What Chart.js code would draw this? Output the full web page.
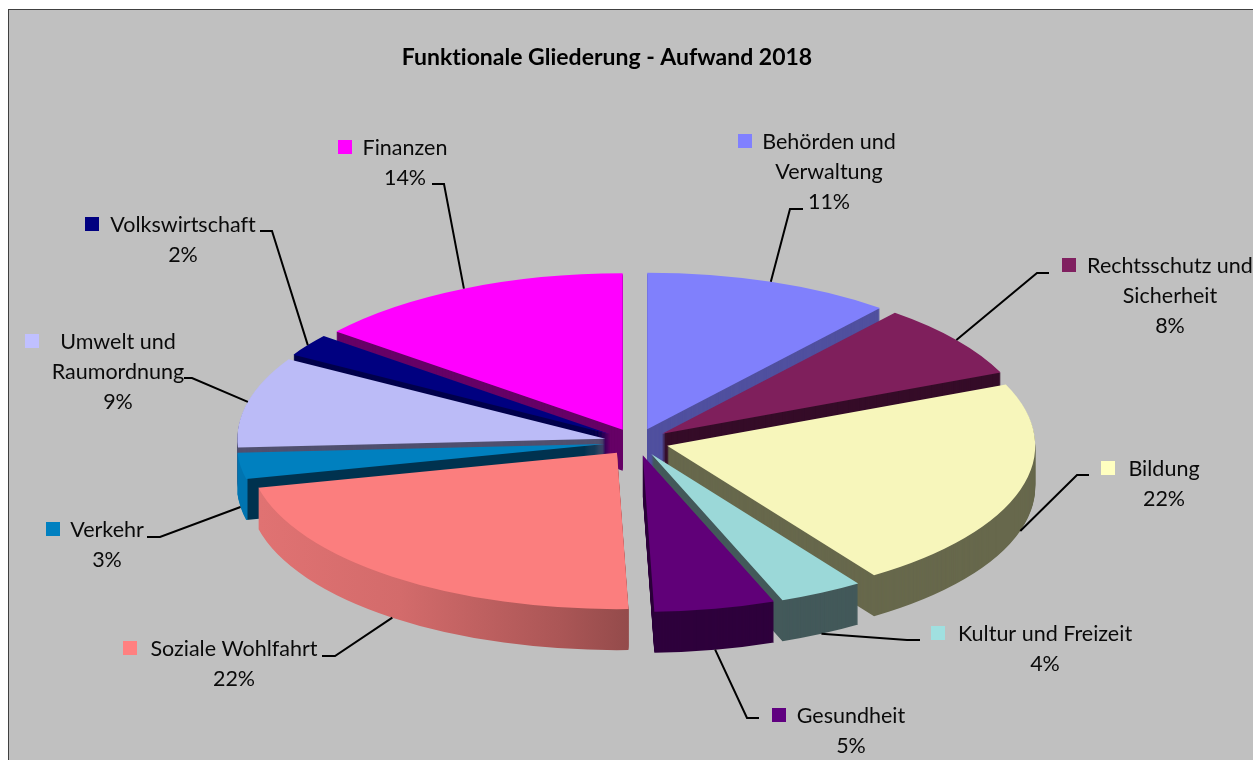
<!DOCTYPE html>
<html>
<head>
<meta charset="utf-8">
<title>Funktionale Gliederung</title>
<script src="https://cdn.jsdelivr.net/npm/chart.js@4"></script>
<style>
    html, body { margin: 0; padding: 0; background: #ffffff; overflow: hidden; }
    canvas { display: block; }
</style>
</head>
<body>
<canvas id="pieChart" width="1253" height="760"></canvas>
<script>
const chartTitle = 'Funktionale Gliederung - Aufwand 2018';
const categories = ['Behörden und Verwaltung', 'Rechtsschutz und Sicherheit', 'Bildung', 'Kultur und Freizeit', 'Gesundheit',
    'Soziale Wohlfahrt', 'Verkehr', 'Umwelt und Raumordnung', 'Volkswirtschaft', 'Finanzen'];
const values = [10.9, 7.7, 21.9, 3.7, 5.3, 21.9, 2.7, 9.4, 2.3, 14.2];

// colores: tapa del sector, cuadro de leyenda, pared lateral
const topColors = ['#8080fc', '#7f1f5c', '#f7f6bb', '#9bd8d8', '#600078', '#fb7e7e', '#0080bf', '#bbbbf7', '#000080', '#ff00ff'];
const keyColors = ['#8080ff', '#802060', '#ffffc0', '#a0e0e0', '#600080', '#ff8080', '#0080c0', '#c0c0ff', '#000080', '#ff00ff'];
const wallColors = ['#50509f', '#350c28', '#67684c', '#43595a', '#2e003c', null, null, '#50506f', '#00004b', '#660066'];
const wallStops = {
    5: [[260, '#e07272'], [400, '#d36b6b'], [560, '#ab5656'], [628, '#944b4b']],
    6: [[238, '#0074b0'], [247, '#0074b0'], [248, '#00324f'], [620, '#00324f']]
};

// posicion de textos y lineas guia
const labelLines = [['Behörden und', 'Verwaltung'], ['Rechtsschutz und', 'Sicherheit'], ['Bildung'], ['Kultur und Freizeit'], ['Gesundheit'],
    ['Soziale Wohlfahrt'], ['Verkehr'], ['Umwelt und', 'Raumordnung'], ['Volkswirtschaft'], ['Finanzen']];
const labelX = [829, 1170, 1164, 1045, 851, 234, 107, 118, 183, 405];
const labelY = [142, 266, 469, 634, 716, 649, 530, 342, 225, 148];
const keyX = [738, 1062, 1101, 931, 772, 123, 46, 25, 85, 338];
const elbows = [[790, 209], [1037, 273], [1077, 475], [907, 640], [747, 718], [335, 656], [160, 537], [192, 378], [272, 231], [444, 184]];
const lineEnds = [[803, 209], [1049, 273], [1089, 475], [920, 640], [759, 718], [322, 656], [147, 537], [184, 378], [260, 231], [432, 184]];

const squash = 0.425;
const depth = 41;
const explode = 32;
const radius = 368;
const fontName = 'Lato, "Open Sans", sans-serif';

const pie3d = {
    id: 'pie3d',
    beforeDraw(chart) {
        const ctx = chart.ctx;
        ctx.save();
        ctx.fillStyle = '#ffffff';
        ctx.fillRect(0, 0, chart.width, chart.height);
        ctx.fillStyle = '#c0c0c0';
        ctx.fillRect(9, 10, chart.width - 9, chart.height - 10);
        ctx.fillStyle = '#404040';
        ctx.fillRect(8, 9, chart.width - 8, 1);
        ctx.fillRect(8, 9, 1, chart.height - 9);
        ctx.restore();
    },
    // dibuja los arcos a mano: de atras hacia delante, aplastados y con paredes
    beforeDatasetsDraw(chart) {
        const ctx = chart.ctx;
        const arcs = chart.getDatasetMeta(0).data;
        const order = arcs.map((a, i) => i).sort((p, q) => Math.sin(midAngle(arcs[p])) - Math.sin(midAngle(arcs[q])));

        order.forEach(i => {
            const arc = arcs[i];
            const mid = midAngle(arc);
            const dx = Math.cos(mid) * explode;
            const dy = Math.sin(mid) * explode;
            const base = arc.options;

            let wall = wallColors[i];
            if (wallStops[i]) {
                wall = ctx.createLinearGradient(0, 0, chart.width, 0);
                wallStops[i].forEach(s => wall.addColorStop(Math.max(0, Math.min(1, (s[0] - dx) / chart.width)), s[1]));
            }

            for (let d = depth; d >= 0; d--) {
                ctx.save();
                ctx.translate(arc.x, arc.y + d);
                ctx.scale(1, squash);
                ctx.translate(-arc.x + dx, -arc.y + dy);
                const o = Object.create(base);
                o.backgroundColor = d === 0 ? topColors[i] : wall;
                arc.options = o;
                arc.draw(ctx);
                arc.options = base;
                ctx.restore();
            }
        });
        return false;
    },
    afterDraw(chart) {
        const ctx = chart.ctx;
        const arcs = chart.getDatasetMeta(0).data;
        ctx.save();

        ctx.fillStyle = '#000000';
        ctx.textAlign = 'center';
        ctx.textBaseline = 'middle';
        ctx.textRendering = 'optimizeSpeed';
        ctx.font = 'bold 23px ' + fontName;
        ctx.fillText(chartTitle, 607, 58);

        ctx.strokeStyle = '#000000';
        ctx.lineWidth = 2;
        arcs.forEach((arc, i) => {
            const mid = midAngle(arc);
            const ax = arc.x + Math.cos(mid) * (radius + explode);
            const ay = arc.y + Math.sin(mid) * (radius + explode) * squash + (Math.sin(mid) > 0 ? depth : 0);
            ctx.beginPath();
            ctx.moveTo(ax, ay);
            ctx.lineTo(elbows[i][0], elbows[i][1]);
            ctx.lineTo(lineEnds[i][0], lineEnds[i][1]);
            ctx.stroke();

            ctx.fillStyle = keyColors[i];
            ctx.fillRect(keyX[i], labelY[i] - 8, 14, 14);

            ctx.fillStyle = '#0a0a0a';
            ctx.font = '21.5px ' + fontName;
            const lines = labelLines[i].concat(Math.round(values[i]) + '%');
            lines.forEach((t, n) => ctx.fillText(t, labelX[i], labelY[i] + n * 30));
        });
        ctx.restore();
    }
};

function midAngle(arc) {
    return (arc.startAngle + arc.endAngle) / 2;
}

new Chart(document.getElementById('pieChart').getContext('2d'), {
    type: 'pie',
    data: {
        labels: categories,
        datasets: [{
            data: values,
            backgroundColor: topColors,
            borderWidth: 0
        }]
    },
    options: {
        responsive: false,
        animation: false,
        radius: radius,
        layout: { padding: { left: 20, top: 124 } },
        plugins: {
            legend: { display: false },
            tooltip: { enabled: false }
        }
    },
    plugins: [pie3d]
});
</script>
</body>
</html>
